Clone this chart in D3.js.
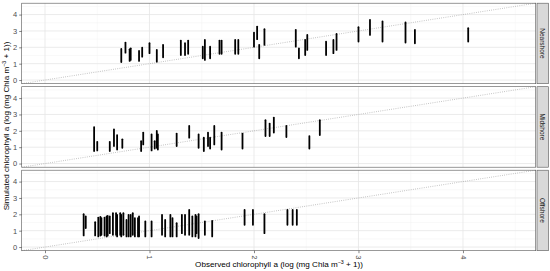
<!DOCTYPE html>
<html><head><meta charset="utf-8">
<script src="https://cdn.jsdelivr.net/npm/d3@7"></script>
<style>body{margin:0;background:#fff}svg{display:block;font-family:"Liberation Sans",Arial,sans-serif}</style>
</head><body><svg id="c" width="550" height="271"></svg>
<script>
const facets = ["Nearshore", "Midshore", "Offshore"];
const ticks = [0, 1, 2, 3, 4];

// Nearshore: observed x, simulated range [min, max]
const nearObs = [0.73,0.77,0.81,0.82,0.90,0.93,1.00,1.07,1.13,1.30,1.34,1.37,1.51,1.53,1.58,1.67,1.69,1.82,1.85,2.00,2.03,2.05,2.10,2.40,2.43,2.49,2.51,2.69,2.76,2.79,3.00,3.11,3.23,3.45,3.54,4.05];
const nearMin = [1.10,1.67,1.17,1.23,1.17,1.43,1.64,1.12,1.39,1.53,1.53,1.60,1.33,1.23,1.33,1.60,1.60,1.60,1.60,2.04,2.50,1.33,2.15,2.04,1.33,1.53,1.84,1.53,1.64,1.84,2.35,2.76,2.35,2.29,2.25,2.35];
const nearMax = [1.90,2.29,1.88,1.94,1.78,1.98,2.25,1.84,2.15,2.41,2.25,2.41,2.04,2.45,2.04,2.41,2.41,2.45,2.45,2.90,3.27,2.15,3.11,3.07,1.94,2.45,2.76,2.35,2.45,2.82,3.23,3.68,3.58,3.52,3.07,3.17];

// Midshore
const midObs = [0.47,0.50,0.62,0.66,0.69,0.74,0.92,0.94,1.02,1.05,1.07,1.08,1.26,1.38,1.47,1.52,1.56,1.58,1.62,1.69,1.89,2.11,2.15,2.19,2.31,2.53,2.63];
const midMin = [0.76,0.80,0.76,1.07,0.86,0.96,0.76,1.17,0.80,0.92,0.96,0.86,1.07,1.58,0.96,0.76,1.07,0.92,1.17,0.86,0.92,1.68,1.68,1.89,1.62,0.92,1.74];
const midMax = [2.23,1.33,1.33,2.09,1.74,1.48,1.37,1.89,1.78,1.37,1.99,1.78,1.83,2.30,1.78,1.58,1.89,1.58,2.30,1.89,1.83,2.65,2.44,2.81,2.30,1.68,2.65];

// Offshore
const offObs = [0.37,0.39,0.48,0.51,0.53,0.54,0.57,0.59,0.60,0.62,0.65,0.68,0.69,0.72,0.73,0.75,0.78,0.80,0.82,0.84,0.86,0.89,0.90,0.96,1.02,1.12,1.15,1.20,1.22,1.26,1.31,1.34,1.38,1.41,1.44,1.45,1.47,1.53,1.60,1.91,1.99,2.10,2.32,2.37,2.41];
const offMin = [0.71,1.16,0.71,0.65,0.70,0.75,0.70,0.65,0.70,0.85,0.75,0.75,0.65,0.75,0.65,0.75,0.65,0.65,0.65,0.75,0.65,0.65,0.65,0.65,0.65,0.75,0.65,0.65,0.65,0.65,0.85,0.75,0.75,0.65,0.65,0.85,0.55,0.75,0.65,1.36,1.36,0.85,1.36,1.36,1.36];
const offMax = [2.01,1.87,1.52,1.80,1.85,1.77,1.80,1.87,1.90,1.87,2.07,2.07,1.97,2.07,1.97,2.07,1.66,1.97,1.97,2.07,1.77,1.77,1.87,1.56,1.56,1.97,1.66,1.97,1.77,1.46,1.97,1.97,2.27,1.87,1.97,1.87,2.01,1.56,1.60,2.27,2.27,2.01,2.27,2.27,2.27];

const facetData = [
  {obs: nearObs, lo: nearMin, hi: nearMax},
  {obs: midObs, lo: midMin, hi: midMax},
  {obs: offObs, lo: offMin, hi: offMax}
];

const svg = d3.select("#c");
const L = 21.7, R = 535.7, panelH = 80.5, gap = 3, top0 = 3.2;
const dom = [-0.223, 4.696];
const x = d3.scaleLinear().domain(dom).range([L, R]);
const minor = [-0.5, 0.5, 1.5, 2.5, 3.5, 4.5];
const FONT = "Liberation Sans, Arial, sans-serif";

facets.forEach((name, i) => {
  const t = top0 + i * (panelH + gap), b = t + panelH;
  const y = d3.scaleLinear().domain(dom).range([b, t]);
  const g = svg.append("g");
  g.append("rect").attr("x", L).attr("y", t).attr("width", R - L).attr("height", panelH).attr("fill", "#fff");
  minor.filter(v => v > dom[0] && v < dom[1]).forEach(v => {
    g.append("line").attr("x1", x(v)).attr("x2", x(v)).attr("y1", t).attr("y2", b).attr("stroke", "#f3f3f3").attr("stroke-width", 0.5);
    g.append("line").attr("x1", L).attr("x2", R).attr("y1", y(v)).attr("y2", y(v)).attr("stroke", "#f3f3f3").attr("stroke-width", 0.5);
  });
  ticks.forEach(v => {
    g.append("line").attr("x1", x(v)).attr("x2", x(v)).attr("y1", t).attr("y2", b).attr("stroke", "#e6e6e6").attr("stroke-width", 0.8);
    g.append("line").attr("x1", L).attr("x2", R).attr("y1", y(v)).attr("y2", y(v)).attr("stroke", "#e6e6e6").attr("stroke-width", 0.8);
  });
  g.append("line").attr("x1", x(dom[0])).attr("y1", y(dom[0])).attr("x2", x(dom[1])).attr("y2", y(dom[1]))
    .attr("stroke", "#9a9a9a").attr("stroke-width", 0.7).attr("stroke-dasharray", "0.8,1.4");
  const d = facetData[i];
  g.selectAll("line.bar").data(d.obs).enter().append("line").attr("class", "bar")
    .attr("x1", v => x(v)).attr("x2", v => x(v))
    .attr("y1", (v, j) => y(d.lo[j])).attr("y2", (v, j) => y(d.hi[j]))
    .attr("stroke", "#000").attr("stroke-width", 1.8).attr("stroke-linecap", "round");
  g.append("rect").attr("x", L).attr("y", t).attr("width", R - L).attr("height", panelH)
    .attr("fill", "none").attr("stroke", "#555").attr("stroke-width", 0.6);
  const ya = d3.axisLeft(y).tickValues(ticks).tickFormat(d3.format("d")).tickSize(2.5).tickPadding(2);
  const ag = svg.append("g").attr("transform", `translate(${L},0)`).call(ya);
  ag.select(".domain").remove();
  ag.selectAll("line").attr("stroke", "#333").attr("stroke-width", 0.6);
  ag.selectAll("text").attr("fill", "#4d4d4d").attr("font-size", 7.5).attr("font-family", FONT);
  svg.append("rect").attr("x", 537).attr("y", t).attr("width", 11.5).attr("height", panelH)
    .attr("fill", "#d9d9d9").attr("stroke", "#555").attr("stroke-width", 0.6);
  svg.append("text").attr("transform", `translate(${542.75},${t + panelH / 2}) rotate(90)`)
    .attr("text-anchor", "middle").attr("dy", "0.35em").attr("font-size", 6.5).attr("fill", "#1a1a1a").text(name);
});

const bottom = top0 + 3 * panelH + 2 * gap;
const xa = d3.axisBottom(x).tickValues(ticks).tickFormat(d3.format("d")).tickSize(2.5).tickPadding(2);
const xg = svg.append("g").attr("transform", `translate(0,${bottom})`).call(xa);
xg.select(".domain").remove();
xg.selectAll("line").attr("stroke", "#333").attr("stroke-width", 0.6);
xg.selectAll("text").attr("fill", "#4d4d4d").attr("font-size", 7.5).attr("font-family", FONT)
  .attr("transform", "rotate(90)").attr("text-anchor", "start").attr("x", 4.5).attr("y", 0).attr("dy", "0.35em");

function title(sel) {
  sel.append("tspan").text("chlorophyll a (log (mg Chla m");
  sel.append("tspan").attr("baseline-shift", "super").attr("font-size", 5.3).text("−3");
  sel.append("tspan").text(" + 1))");
}
const xt = svg.append("text").attr("x", 279).attr("y", 267).attr("text-anchor", "middle").attr("font-size", 8.1).attr("fill", "#000");
xt.append("tspan").text("Observed ");
title(xt);
const yt = svg.append("text").attr("transform", `translate(9,${126}) rotate(-90)`).attr("text-anchor", "middle").attr("font-size", 8.1).attr("fill", "#000");
yt.append("tspan").text("Simulated ");
title(yt);
</script></body></html>
